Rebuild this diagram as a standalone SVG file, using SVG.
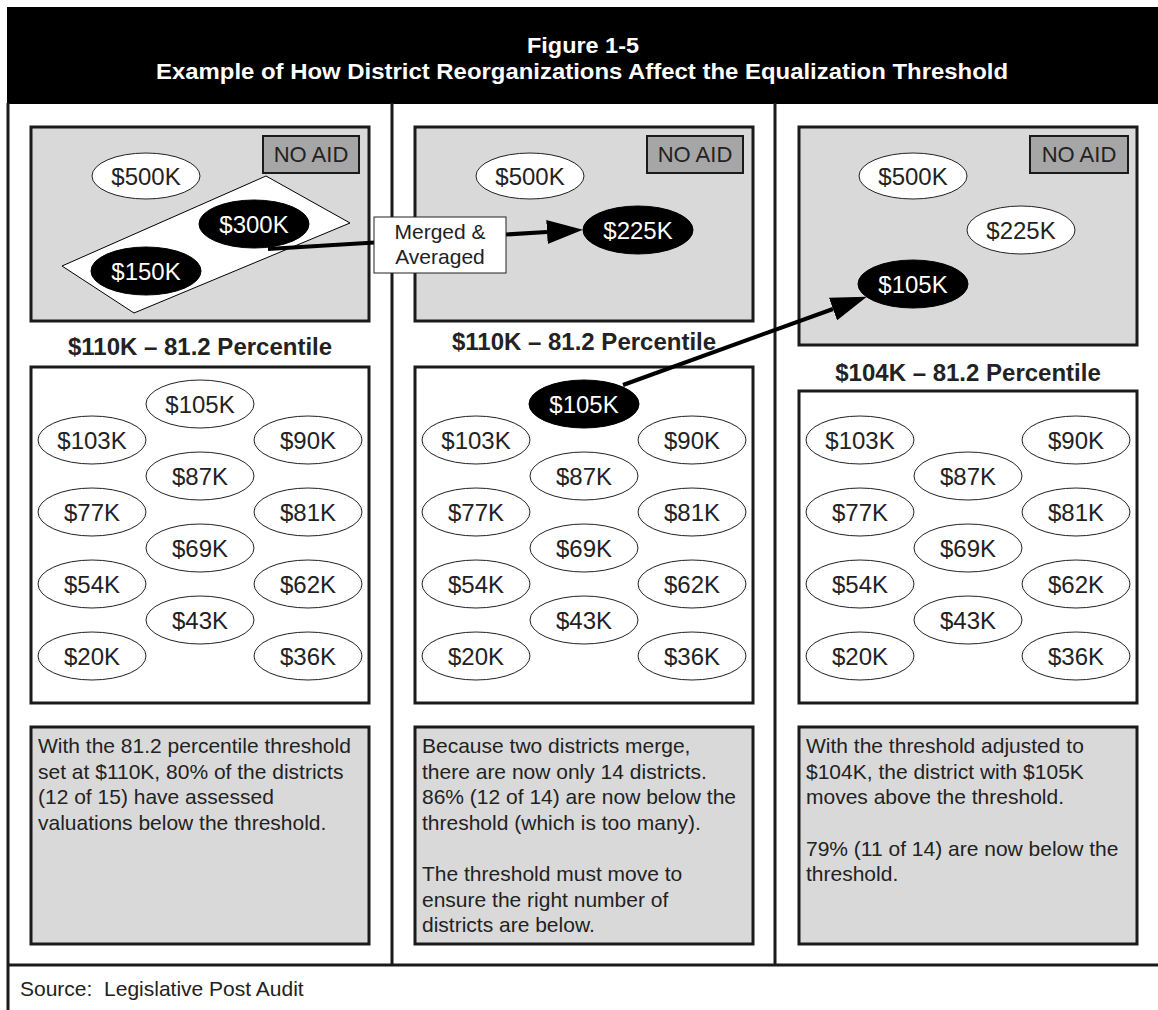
<svg xmlns="http://www.w3.org/2000/svg" width="1158" height="1010" viewBox="0 0 1158 1010">
<defs>
<style>
text{font-family:"Liberation Sans",Arial,sans-serif;fill:#222}
.title{font-size:22px;font-weight:bold;fill:#fff;text-anchor:middle}
.frame{stroke:#1a1a1a;stroke-width:3;fill:none}
.gbox{fill:#d9d9d9;stroke:#1a1a1a;stroke-width:3}
.wbox{fill:#fff;stroke:#1a1a1a;stroke-width:3}
.noaid{fill:#a6a6a6;stroke:#1a1a1a;stroke-width:2}
.noaidt{font-size:22px;text-anchor:middle}
.ew{fill:#fff;stroke:#222;stroke-width:1}
.eb{fill:#000;stroke:#000;stroke-width:1}
.et{font-size:24px;text-anchor:middle}
.ebt{font-size:24px;text-anchor:middle;fill:#fff}
.lbl{font-size:24px;font-weight:bold;text-anchor:middle}
.body{font-size:21px}
.conn{stroke:#000;stroke-width:4;fill:none}
</style>
<marker id="ah" markerWidth="9" markerHeight="6" refX="0" refY="3" orient="auto" markerUnits="strokeWidth">
<path d="M0,0 L9,3 L0,6 z" fill="#000"/>
</marker>
</defs>

<g id="frame">
<rect x="7" y="7" width="1151" height="97" fill="#000"/>
<text class="title" x="583" y="53" textLength="112" lengthAdjust="spacingAndGlyphs">Figure 1-5</text>
<text class="title" x="582" y="79" textLength="852" lengthAdjust="spacingAndGlyphs">Example of How District Reorganizations Affect the Equalization Threshold</text>
<line class="frame" x1="8" y1="103" x2="8" y2="1010" stroke-width="2.5"/>
<line class="frame" x1="392" y1="103" x2="392" y2="965"/>
<line class="frame" x1="775" y1="103" x2="775" y2="965"/>
<line class="frame" x1="7" y1="965" x2="1158" y2="965"/>
<text x="20" y="996" style="font-size:21px">Source:&#160; Legislative Post Audit</text>
</g>

<!-- Panel 1 -->
<g id="p1-top">
<rect class="gbox" x="31" y="127" width="338" height="194"/>
<rect class="noaid" x="263" y="136" width="96" height="37"/>
<text class="noaidt" x="311" y="162">NO AID</text>
<ellipse class="ew" cx="146" cy="176" rx="54" ry="23"/>
<text class="et" x="146" y="184.5">$500K</text>
<polygon points="62,266 266,176 350,223 134,313" fill="#fff" stroke="#000" stroke-width="1"/>
<ellipse class="eb" cx="254" cy="224" rx="55" ry="24"/>
<text class="ebt" x="254" y="232.5">$300K</text>
<ellipse class="eb" cx="146" cy="271" rx="55" ry="24"/>
<text class="ebt" x="146" y="279.5">$150K</text>
</g>
<text id="p1-label" class="lbl" x="200" y="355">$110K – 81.2 Percentile</text>
<g id="p1-list">
<rect class="wbox" x="31" y="367" width="338" height="336"/>
<ellipse class="ew" cx="200" cy="404" rx="54" ry="24"/><text class="et" x="200" y="412.5">$105K</text>
<ellipse class="ew" cx="92" cy="440" rx="54" ry="24"/><text class="et" x="92" y="448.5">$103K</text>
<ellipse class="ew" cx="308" cy="440" rx="54" ry="24"/><text class="et" x="308" y="448.5">$90K</text>
<ellipse class="ew" cx="200" cy="476" rx="54" ry="24"/><text class="et" x="200" y="484.5">$87K</text>
<ellipse class="ew" cx="92" cy="512" rx="54" ry="24"/><text class="et" x="92" y="520.5">$77K</text>
<ellipse class="ew" cx="308" cy="512" rx="54" ry="24"/><text class="et" x="308" y="520.5">$81K</text>
<ellipse class="ew" cx="200" cy="548" rx="54" ry="24"/><text class="et" x="200" y="556.5">$69K</text>
<ellipse class="ew" cx="92" cy="584" rx="54" ry="24"/><text class="et" x="92" y="592.5">$54K</text>
<ellipse class="ew" cx="308" cy="584" rx="54" ry="24"/><text class="et" x="308" y="592.5">$62K</text>
<ellipse class="ew" cx="200" cy="620" rx="54" ry="24"/><text class="et" x="200" y="628.5">$43K</text>
<ellipse class="ew" cx="92" cy="656" rx="54" ry="24"/><text class="et" x="92" y="664.5">$20K</text>
<ellipse class="ew" cx="308" cy="656" rx="54" ry="24"/><text class="et" x="308" y="664.5">$36K</text>
</g>
<g id="p1-note">
<rect class="gbox" x="31" y="727" width="338" height="217"/>
<text class="body" x="38" y="753">With the 81.2 percentile threshold</text>
<text class="body" x="38" y="779">set at $110K, 80% of the districts</text>
<text class="body" x="38" y="804">(12 of 15) have assessed</text>
<text class="body" x="38" y="830">valuations below the threshold.</text>
</g>

<!-- Panel 2 -->
<g id="p2-top">
<rect class="gbox" x="415" y="127" width="338" height="194"/>
<rect class="noaid" x="647" y="136" width="96" height="37"/>
<text class="noaidt" x="695" y="162">NO AID</text>
<ellipse class="ew" cx="530" cy="176" rx="54" ry="23"/>
<text class="et" x="530" y="184.5">$500K</text>
<ellipse class="eb" cx="638" cy="230" rx="55" ry="24"/>
<text class="ebt" x="638" y="238.5">$225K</text>
</g>
<text id="p2-label" class="lbl" x="584" y="350">$110K – 81.2 Percentile</text>
<g id="p2-list">
<rect class="wbox" x="415" y="367" width="338" height="336"/>
<ellipse class="eb" cx="584" cy="404" rx="55" ry="24"/><text class="ebt" x="584" y="412.5">$105K</text>
<ellipse class="ew" cx="476" cy="440" rx="54" ry="24"/><text class="et" x="476" y="448.5">$103K</text>
<ellipse class="ew" cx="692" cy="440" rx="54" ry="24"/><text class="et" x="692" y="448.5">$90K</text>
<ellipse class="ew" cx="584" cy="476" rx="54" ry="24"/><text class="et" x="584" y="484.5">$87K</text>
<ellipse class="ew" cx="476" cy="512" rx="54" ry="24"/><text class="et" x="476" y="520.5">$77K</text>
<ellipse class="ew" cx="692" cy="512" rx="54" ry="24"/><text class="et" x="692" y="520.5">$81K</text>
<ellipse class="ew" cx="584" cy="548" rx="54" ry="24"/><text class="et" x="584" y="556.5">$69K</text>
<ellipse class="ew" cx="476" cy="584" rx="54" ry="24"/><text class="et" x="476" y="592.5">$54K</text>
<ellipse class="ew" cx="692" cy="584" rx="54" ry="24"/><text class="et" x="692" y="592.5">$62K</text>
<ellipse class="ew" cx="584" cy="620" rx="54" ry="24"/><text class="et" x="584" y="628.5">$43K</text>
<ellipse class="ew" cx="476" cy="656" rx="54" ry="24"/><text class="et" x="476" y="664.5">$20K</text>
<ellipse class="ew" cx="692" cy="656" rx="54" ry="24"/><text class="et" x="692" y="664.5">$36K</text>
</g>
<g id="p2-note">
<rect class="gbox" x="415" y="727" width="338" height="217"/>
<text class="body" x="422" y="753">Because two districts merge,</text>
<text class="body" x="422" y="779">there are now only 14 districts.</text>
<text class="body" x="422" y="804">86% (12 of 14) are now below the</text>
<text class="body" x="422" y="830">threshold (which is too many).</text>
<text class="body" x="422" y="881">The threshold must move to</text>
<text class="body" x="422" y="907">ensure the right number of</text>
<text class="body" x="422" y="932">districts are below.</text>
</g>

<!-- Panel 3 -->
<g id="p3-top">
<rect class="gbox" x="799" y="127" width="338" height="218"/>
<rect class="noaid" x="1030" y="136" width="98" height="37"/>
<text class="noaidt" x="1079" y="162">NO AID</text>
<ellipse class="ew" cx="913" cy="176" rx="54" ry="23"/>
<text class="et" x="913" y="184.5">$500K</text>
<ellipse class="ew" cx="1021" cy="230" rx="54" ry="24"/>
<text class="et" x="1021" y="238.5">$225K</text>
<ellipse class="eb" cx="913" cy="284" rx="55" ry="24"/>
<text class="ebt" x="913" y="292.5">$105K</text>
</g>
<text id="p3-label" class="lbl" x="968" y="381">$104K – 81.2 Percentile</text>
<g id="p3-list">
<rect class="wbox" x="799" y="391" width="338" height="312"/>
<ellipse class="ew" cx="860" cy="440" rx="54" ry="24"/><text class="et" x="860" y="448.5">$103K</text>
<ellipse class="ew" cx="1076" cy="440" rx="54" ry="24"/><text class="et" x="1076" y="448.5">$90K</text>
<ellipse class="ew" cx="968" cy="476" rx="54" ry="24"/><text class="et" x="968" y="484.5">$87K</text>
<ellipse class="ew" cx="860" cy="512" rx="54" ry="24"/><text class="et" x="860" y="520.5">$77K</text>
<ellipse class="ew" cx="1076" cy="512" rx="54" ry="24"/><text class="et" x="1076" y="520.5">$81K</text>
<ellipse class="ew" cx="968" cy="548" rx="54" ry="24"/><text class="et" x="968" y="556.5">$69K</text>
<ellipse class="ew" cx="860" cy="584" rx="54" ry="24"/><text class="et" x="860" y="592.5">$54K</text>
<ellipse class="ew" cx="1076" cy="584" rx="54" ry="24"/><text class="et" x="1076" y="592.5">$62K</text>
<ellipse class="ew" cx="968" cy="620" rx="54" ry="24"/><text class="et" x="968" y="628.5">$43K</text>
<ellipse class="ew" cx="860" cy="656" rx="54" ry="24"/><text class="et" x="860" y="664.5">$20K</text>
<ellipse class="ew" cx="1076" cy="656" rx="54" ry="24"/><text class="et" x="1076" y="664.5">$36K</text>
</g>
<g id="p3-note">
<rect class="gbox" x="799" y="727" width="338" height="217"/>
<text class="body" x="806" y="753">With the threshold adjusted to</text>
<text class="body" x="806" y="779">$104K, the district with $105K</text>
<text class="body" x="806" y="804">moves above the threshold.</text>
<text class="body" x="806" y="856">79% (11 of 14) are now below the</text>
<text class="body" x="806" y="881">threshold.</text>
</g>

<g id="connectors">
<line class="conn" x1="268" y1="249" x2="547" y2="232" marker-end="url(#ah)"/>
<line class="conn" x1="623" y1="385" x2="833" y2="309" marker-end="url(#ah)"/>
</g>
<g id="merged-label">
<rect x="374" y="217" width="132" height="56" fill="#fff" stroke="#222" stroke-width="1"/>
<text x="440" y="239" style="font-size:21px;text-anchor:middle">Merged &amp;</text>
<text x="440" y="264" style="font-size:21px;text-anchor:middle">Averaged</text>
</g>
</svg>
